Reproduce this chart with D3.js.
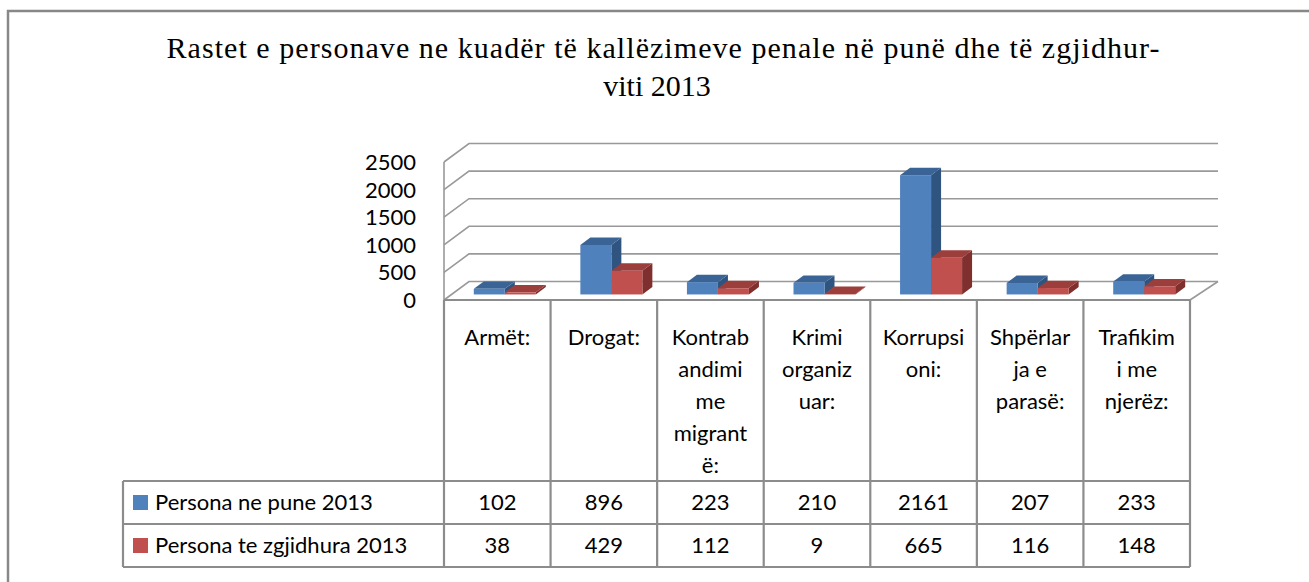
<!DOCTYPE html>
<html lang="sq">
<head>
<meta charset="utf-8">
<title>Rastet e personave 2013</title>
<script src="https://cdn.jsdelivr.net/npm/d3@7"></script>
<style>
  body { margin: 0; background: #fff; }
  svg text { fill: #000; }
  .lbl { font-family: Lato, "Open Sans", sans-serif; font-size: 22px; }
  .title { font-family: "Liberation Serif", "DejaVu Serif", serif; font-size: 30px; }
</style>
</head>
<body>
<script>
// data
var categories = ["Armët:", "Drogat:", "Kontrabandimi me migrantë:", "Krimi organizuar:", "Korrupsioni:", "Shpërlarja e parasë:", "Trafikimi me njerëz:"];
// how the labels wrap inside the table header cells
var categoryLines = [
  ["Armët:"],
  ["Drogat:"],
  ["Kontrab", "andimi", "me", "migrant", "ë:"],
  ["Krimi", "organiz", "uar:"],
  ["Korrupsi", "oni:"],
  ["Shpërlar", "ja e", "parasë:"],
  ["Trafikim", "i me", "njerëz:"]
];
var seriesNames = ["Persona ne pune 2013", "Persona te zgjidhura 2013"];
var punë = [102, 896, 223, 210, 2161, 207, 233];
var zgjidhura = [38, 429, 112, 9, 665, 116, 148];
var yTicks = [0, 500, 1000, 1500, 2000, 2500];

var colors = [
  { front: "#4f81bd", top: "#3b6496", side: "#2f5480" },
  { front: "#c0504d", top: "#9c3e3b", side: "#7f302e" }
];

var w = 1309, h = 582;
var svg = d3.select("body").append("svg").attr("width", w).attr("height", h);

// outer frame (runs off the page right and bottom)
svg.append("rect").attr("x", 8).attr("y", 11).attr("width", 1320).attr("height", 600)
  .attr("fill", "none").attr("stroke", "#888").attr("stroke-width", 2.5);

// title
var title = svg.append("text").attr("class", "title").attr("text-anchor", "middle");
title.append("tspan").attr("x", 663).attr("y", 58)
  .attr("textLength", 993).attr("lengthAdjust", "spacing")
  .text("Rastet e personave ne kuadër të kallëzimeve penale në punë dhe të zgjidhur-");
title.append("tspan").attr("x", 657).attr("y", 96).text("viti 2013");

// geometry of the 3d plot
var left = 444, right = 1190, floorY = 300;
var depth = { dx: 25, dy: -18.5 };

var x = d3.scaleBand().domain(categories).range([left, right]);
var y = d3.scaleLinear().domain([0, 2500]).range([0, -138]);

var grid = svg.append("g").attr("stroke", "#999").attr("stroke-width", 1.6).attr("fill", "none");

// back wall gridlines + side wall diagonals
yTicks.forEach(function(t) {
  grid.append("path").attr("d",
    "M" + left + "," + (floorY + y(t)) +
    "L" + (left + depth.dx) + "," + (floorY + y(t) + depth.dy) +
    "L" + (right + depth.dx + 3) + "," + (floorY + y(t) + depth.dy));
});
// floor right edge
grid.append("path").attr("d",
  "M" + right + "," + floorY + "L" + (right + depth.dx + 3) + "," + (floorY + depth.dy));
// vertical axis
grid.append("path").attr("d", "M" + left + "," + (floorY + y(2500)) + "L" + left + "," + floorY);

// y tick labels
svg.append("g").selectAll("text").data(yTicks).join("text")
  .attr("class", "lbl")
  .attr("x", 416)
  .attr("y", function(d) { return floorY + y(d); })
  .attr("dy", "0.36em")
  .attr("text-anchor", "end")
  .text(function(d) { return d; });

// bars
var series = [punë, zgjidhura];
var barW = 31;
var t0 = 0.3, t1 = 0.4; // front position and thickness as part of floor depth
var bars = svg.append("g");
categories.forEach(function(c, i) {
  var cx = x(c) + x.bandwidth() / 2 + depth.dx * t0;
  var baseY = floorY + depth.dy * t0;
  var ox = depth.dx * t1, oy = depth.dy * t1;
  series.forEach(function(s, k) {
    var x0 = cx - barW + k * barW, x1 = x0 + barW;
    var top = baseY + y(s[i]);
    bars.append("path").attr("fill", colors[k].side)
      .attr("d", "M" + x1 + "," + top + "L" + (x1 + ox) + "," + (top + oy) +
        "L" + (x1 + ox) + "," + (baseY + oy) + "L" + x1 + "," + baseY + "Z");
    bars.append("path").attr("fill", colors[k].top)
      .attr("d", "M" + x0 + "," + top + "L" + (x0 + ox) + "," + (top + oy) +
        "L" + (x1 + ox) + "," + (top + oy) + "L" + x1 + "," + top + "Z");
    bars.append("rect").attr("fill", colors[k].front)
      .attr("x", x0).attr("y", top).attr("width", barW).attr("height", baseY - top);
  });
});

// data table
var tableLeft = 123, headBottom = 481, rowH = 43;
var tbl = svg.append("g").attr("stroke", "#8c8c8c").attr("stroke-width", 2.2).attr("fill", "none");
tbl.append("path").attr("d", "M" + left + "," + floorY + "L" + right + "," + floorY);
x.domain().forEach(function(c) {
  tbl.append("path").attr("d", "M" + x(c) + "," + floorY + "L" + x(c) + "," + (headBottom + 2 * rowH));
});
tbl.append("path").attr("d", "M" + right + "," + floorY + "L" + right + "," + (headBottom + 2 * rowH));
[0, 1, 2].forEach(function(r) {
  tbl.append("path").attr("d", "M" + tableLeft + "," + (headBottom + r * rowH) + "L" + right + "," + (headBottom + r * rowH));
});
tbl.append("path").attr("d", "M" + tableLeft + "," + headBottom + "L" + tableLeft + "," + (headBottom + 2 * rowH));

// header labels
categories.forEach(function(c, i) {
  var t = svg.append("text").attr("class", "lbl").attr("text-anchor", "middle");
  categoryLines[i].forEach(function(line, j) {
    t.append("tspan").attr("x", x(c) + x.bandwidth() / 2).attr("y", 345 + j * 32).text(line);
  });
});

// rows
series.forEach(function(s, k) {
  var cy = headBottom + k * rowH + rowH / 2;
  svg.append("rect").attr("x", 133).attr("y", cy - 7.5).attr("width", 15).attr("height", 15).attr("fill", colors[k].front);
  svg.append("text").attr("class", "lbl").attr("x", 155).attr("y", cy).attr("dy", "0.36em").text(seriesNames[k]);
  svg.append("g").selectAll("text").data(s).join("text")
    .attr("class", "lbl")
    .attr("text-anchor", "middle")
    .attr("x", function(d, i) { return x(categories[i]) + x.bandwidth() / 2; })
    .attr("y", cy)
    .attr("dy", "0.36em")
    .text(function(d) { return d; });
});
</script>
</body>
</html>
